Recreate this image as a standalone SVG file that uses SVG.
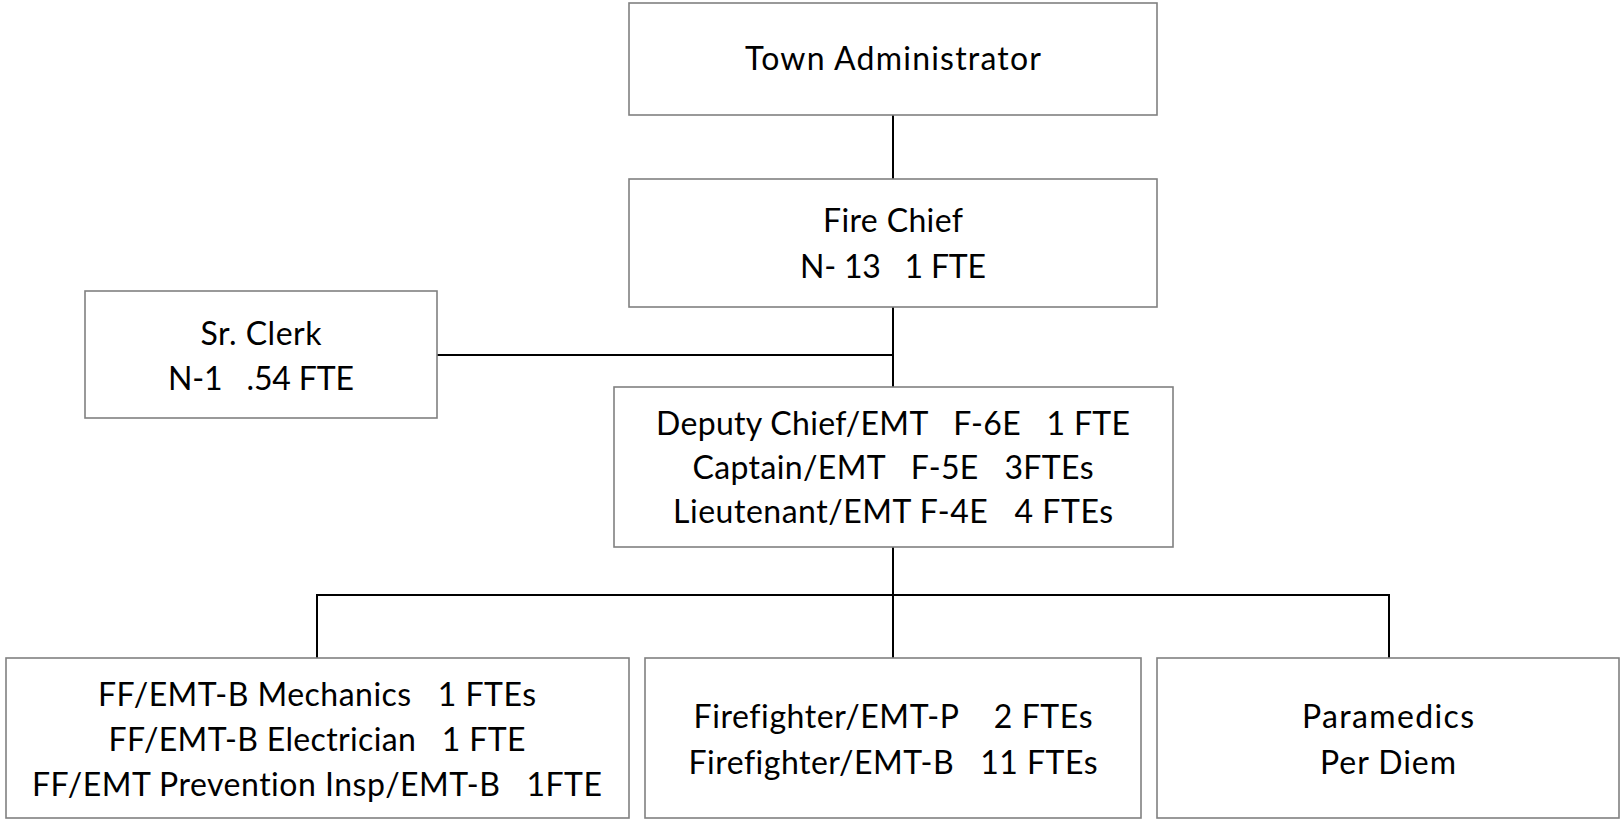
<svg xmlns="http://www.w3.org/2000/svg" width="1620" height="819" viewBox="0 0 1620 819">
<style>
.box{fill:#ffffff;stroke:#808080;stroke-width:1.6}
.lbl{font-family:Lato,"Open Sans","Liberation Sans",sans-serif;font-size:32px;fill:#000000;text-anchor:middle;font-variant-ligatures:none;font-feature-settings:"liga" 0,"dlig" 0}
.con{stroke:#000000;stroke-width:2;fill:none}
</style>
<rect width="1620" height="819" fill="#ffffff"/>
<g id="connectors">
<line class="con" x1="893" y1="115" x2="893" y2="179"/>
<line class="con" x1="893" y1="307" x2="893" y2="387"/>
<line class="con" x1="437" y1="355" x2="893" y2="355"/>
<line class="con" x1="893" y1="547" x2="893" y2="658"/>
<polyline class="con" points="317,658 317,595 1389,595 1389,658"/>
</g>
<g id="town-administrator">
<rect class="box" x="629" y="3" width="528" height="112"/>
<text class="lbl" x="893" y="70" textLength="296" lengthAdjust="spacing">Town Administrator</text>
</g>
<g id="fire-chief">
<rect class="box" x="629" y="179" width="528" height="128"/>
<text class="lbl" x="893" y="232" textLength="140" lengthAdjust="spacing">Fire Chief</text>
<text class="lbl" x="893" y="278" xml:space="preserve" textLength="186" lengthAdjust="spacing">N- 13   1 FTE</text>
</g>
<g id="sr-clerk">
<rect class="box" x="85" y="291" width="352" height="127"/>
<text class="lbl" x="261" y="345" textLength="121" lengthAdjust="spacing">Sr. Clerk</text>
<text class="lbl" x="261" y="390" xml:space="preserve" textLength="186" lengthAdjust="spacing">N-1   .54 FTE</text>
</g>
<g id="deputy-chief">
<rect class="box" x="614" y="387" width="559" height="160"/>
<text class="lbl" x="893" y="435" xml:space="preserve" textLength="474" lengthAdjust="spacing">Deputy Chief/EMT   F-6E   1 FTE</text>
<text class="lbl" x="893" y="479" xml:space="preserve" textLength="401" lengthAdjust="spacing">Captain/EMT   F-5E   3FTEs</text>
<text class="lbl" x="893" y="523" xml:space="preserve" textLength="440" lengthAdjust="spacing">Lieutenant/EMT F-4E   4 FTEs</text>
</g>
<g id="ff-emt-specialists">
<rect class="box" x="6" y="658" width="623" height="160"/>
<text class="lbl" x="317" y="706" xml:space="preserve" textLength="438" lengthAdjust="spacing">FF/EMT-B Mechanics   1 FTEs</text>
<text class="lbl" x="317" y="751" xml:space="preserve" textLength="417" lengthAdjust="spacing">FF/EMT-B Electrician   1 FTE</text>
<text class="lbl" x="317" y="796" xml:space="preserve" textLength="570" lengthAdjust="spacing">FF/EMT Prevention Insp/EMT-B   1FTE</text>
</g>
<g id="firefighters">
<rect class="box" x="645" y="658" width="496" height="160"/>
<text class="lbl" x="893" y="728" xml:space="preserve" textLength="399" lengthAdjust="spacing">Firefighter/EMT-P    2 FTEs</text>
<text class="lbl" x="893" y="774" xml:space="preserve" textLength="409" lengthAdjust="spacing">Firefighter/EMT-B   11 FTEs</text>
</g>
<g id="paramedics">
<rect class="box" x="1157" y="658" width="462" height="160"/>
<text class="lbl" x="1388" y="728" textLength="172" lengthAdjust="spacing">Paramedics</text>
<text class="lbl" x="1388" y="774" textLength="136" lengthAdjust="spacing">Per Diem</text>
</g>
</svg>
